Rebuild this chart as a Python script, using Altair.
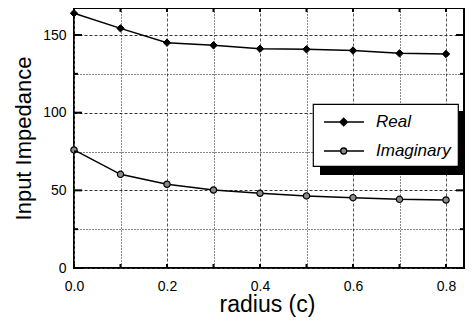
import altair as alt
import pandas as pd

radius = [0.0, 0.1, 0.2, 0.3, 0.4, 0.5, 0.6, 0.7, 0.8]
real = [164.0, 154.3, 145.1, 143.4, 141.2, 140.8, 140.0, 138.2, 137.8]
imaginary = [76.0, 60.3, 53.9, 50.2, 48.1, 46.4, 45.3, 44.2, 43.8]
series_names = ["Real", "Imaginary"]
x_ticks = [0.0, 0.1, 0.2, 0.3, 0.4, 0.5, 0.6, 0.7, 0.8]
y_ticks = [0, 25, 50, 75, 100, 125, 150]

rows = []
for r, v in zip(radius, real):
    rows.append({"radius": r, "value": v, "series": "Real"})
for r, v in zip(radius, imaginary):
    rows.append({"radius": r, "value": v, "series": "Imaginary"})
df = pd.DataFrame(rows)

FONT = "Liberation Sans"
W, H = 390, 260

x_major = "round(datum.value*10) % 2 == 0"
y_major = "datum.value % 50 == 0"

x_scale = alt.Scale(domain=[0, 0.8387], nice=False, zero=False)
y_scale = alt.Scale(domain=[0, 167.4], nice=False)

x_enc = alt.X(
    "radius:Q",
    scale=x_scale,
    axis=alt.Axis(
        values=x_ticks,
        labelExpr=x_major + " ? format(datum.value, '.1f') : ''",
        title="radius (c)",
        titleFontSize=23,
        titleFontWeight="normal",
        titleFont=FONT,
        titleX=193,
        titleY=43,
        titleBaseline="alphabetic",
        labelFontSize=14,
        labelFont=FONT,
        labelPadding=11,
        labelFlush=False,
        labelColor="black",
        titleColor="black",
        tickSize=0,
        domain=False,
        grid=True,
        gridColor={"condition": {"test": x_major, "value": "#555"}, "value": "#111"},
        gridDash={"condition": {"test": x_major, "value": [3, 2]}, "value": [1, 2]},
        gridWidth=1,
        labelOverlap=False,
    ),
)
y_enc = alt.Y(
    "value:Q",
    scale=y_scale,
    axis=alt.Axis(
        values=y_ticks,
        labelExpr=y_major + " ? datum.value : ''",
        title="Input Impedance",
        titleFontSize=22,
        titleFontWeight="normal",
        titleFont=FONT,
        titleX=-44,
        titleY=130,
        titleBaseline="alphabetic",
        labelFontSize=14,
        labelFont=FONT,
        labelPadding=8,
        labelFlush=False,
        labelColor="black",
        titleColor="black",
        tickSize=0,
        domain=False,
        grid=True,
        gridColor={"condition": {"test": y_major, "value": "#333"}, "value": "#111"},
        gridDash={"condition": {"test": y_major, "value": [3, 2]}, "value": [1, 2]},
        gridWidth=1,
        labelOverlap=False,
    ),
)

base = alt.Chart(df)

# inward tick marks on all four sides
xt = pd.DataFrame({"radius": x_ticks})
yt = pd.DataFrame({"value": y_ticks})
xs = alt.X("radius:Q", scale=x_scale)
ys = alt.Y("value:Q", scale=y_scale)
tick_layers = []
for major, ln in ((True, 8), (False, 4)):
    xf = x_major if major else "!(" + x_major + ")"
    yf = y_major if major else "!(" + y_major + ")"
    tick_layers.append(alt.Chart(xt).transform_filter(xf).mark_rule(color="black", strokeWidth=2).encode(
        x=xs, y=alt.value(H), y2=alt.value(H - ln)))
    tick_layers.append(alt.Chart(xt).transform_filter(xf).mark_rule(color="black", strokeWidth=2).encode(
        x=xs, y=alt.value(0), y2=alt.value(ln)))
    tick_layers.append(alt.Chart(yt).transform_filter(yf).mark_rule(color="black", strokeWidth=2).encode(
        y=ys, x=alt.value(0), x2=alt.value(ln)))
    tick_layers.append(alt.Chart(yt).transform_filter(yf).mark_rule(color="black", strokeWidth=2).encode(
        y=ys, x=alt.value(W), x2=alt.value(W - ln)))

shadow = base.mark_rect(color="black").encode(
    x=alt.value(246), x2=alt.value(389), y=alt.value(103), y2=alt.value(167)
).transform_filter("datum.radius == 0 && datum.series == 'Real'")

lines = base.mark_line(color="black", strokeWidth=1.5).encode(
    x=x_enc, y=y_enc, detail="series:N"
)

real_pts = base.transform_filter("datum.series == 'Real'").mark_point(
    shape="diamond", filled=True, fill="black", stroke="black", strokeWidth=1, size=55, opacity=1
).encode(x=x_enc, y=y_enc)

imag_pts = base.transform_filter("datum.series == 'Imaginary'").mark_point(
    shape="circle", filled=True, fill="#8a8a8a", stroke="black", strokeWidth=1.2, size=40, opacity=1
).encode(x=x_enc, y=y_enc)

real_path = "M-0.7,0L3.3,0M1.27,-0.38L1.65,0L1.27,0.38L0.89,0Z"
imag_path = "M-0.7,0L0.97,0M1.57,0L3.3,0M0.97,0A0.3,0.3,0,1,1,1.57,0A0.3,0.3,0,1,1,0.97,0Z"

legend = alt.Legend(
    title=None,
    orient="none",
    legendX=239,
    legendY=96,
    padding=7,
    rowPadding=10,
    labelOffset=34,
    labelFont=FONT,
    labelFontStyle="italic",
    labelFontSize=17,
    labelColor="black",
    labelLimit=300,
    fillColor="white",
    strokeColor="black",
    symbolSize=400,
    symbolStrokeWidth=1.3,
    symbolStrokeColor="black",
)

legend_layer = base.transform_filter("datum.radius < 0").mark_point(
    filled=True, stroke="black", strokeWidth=1.3, opacity=1
).encode(
    x=x_enc,
    y=y_enc,
    shape=alt.Shape(
        "series:N",
        scale=alt.Scale(domain=series_names, range=[real_path, imag_path]),
        legend=legend,
    ),
    fill=alt.Fill(
        "series:N",
        scale=alt.Scale(domain=series_names, range=["black", "#8a8a8a"]),
        legend=legend,
    ),
    stroke=alt.Stroke(
        "series:N",
        scale=alt.Scale(domain=series_names, range=["black", "black"]),
        legend=legend,
    ),
)

chart = alt.layer(shadow, lines, real_pts, imag_pts, legend_layer, *tick_layers).properties(
    width=W,
    height=H,
    autosize=alt.AutoSizeParams(type="none"),
    padding={"left": 66, "top": 0, "right": 1, "bottom": 50},
    background="white",
).configure_view(stroke="black", strokeWidth=2).configure_legend(strokeWidth=1.2)

chart.save("out.html", embed_options={"renderer": "svg", "actions": False})
